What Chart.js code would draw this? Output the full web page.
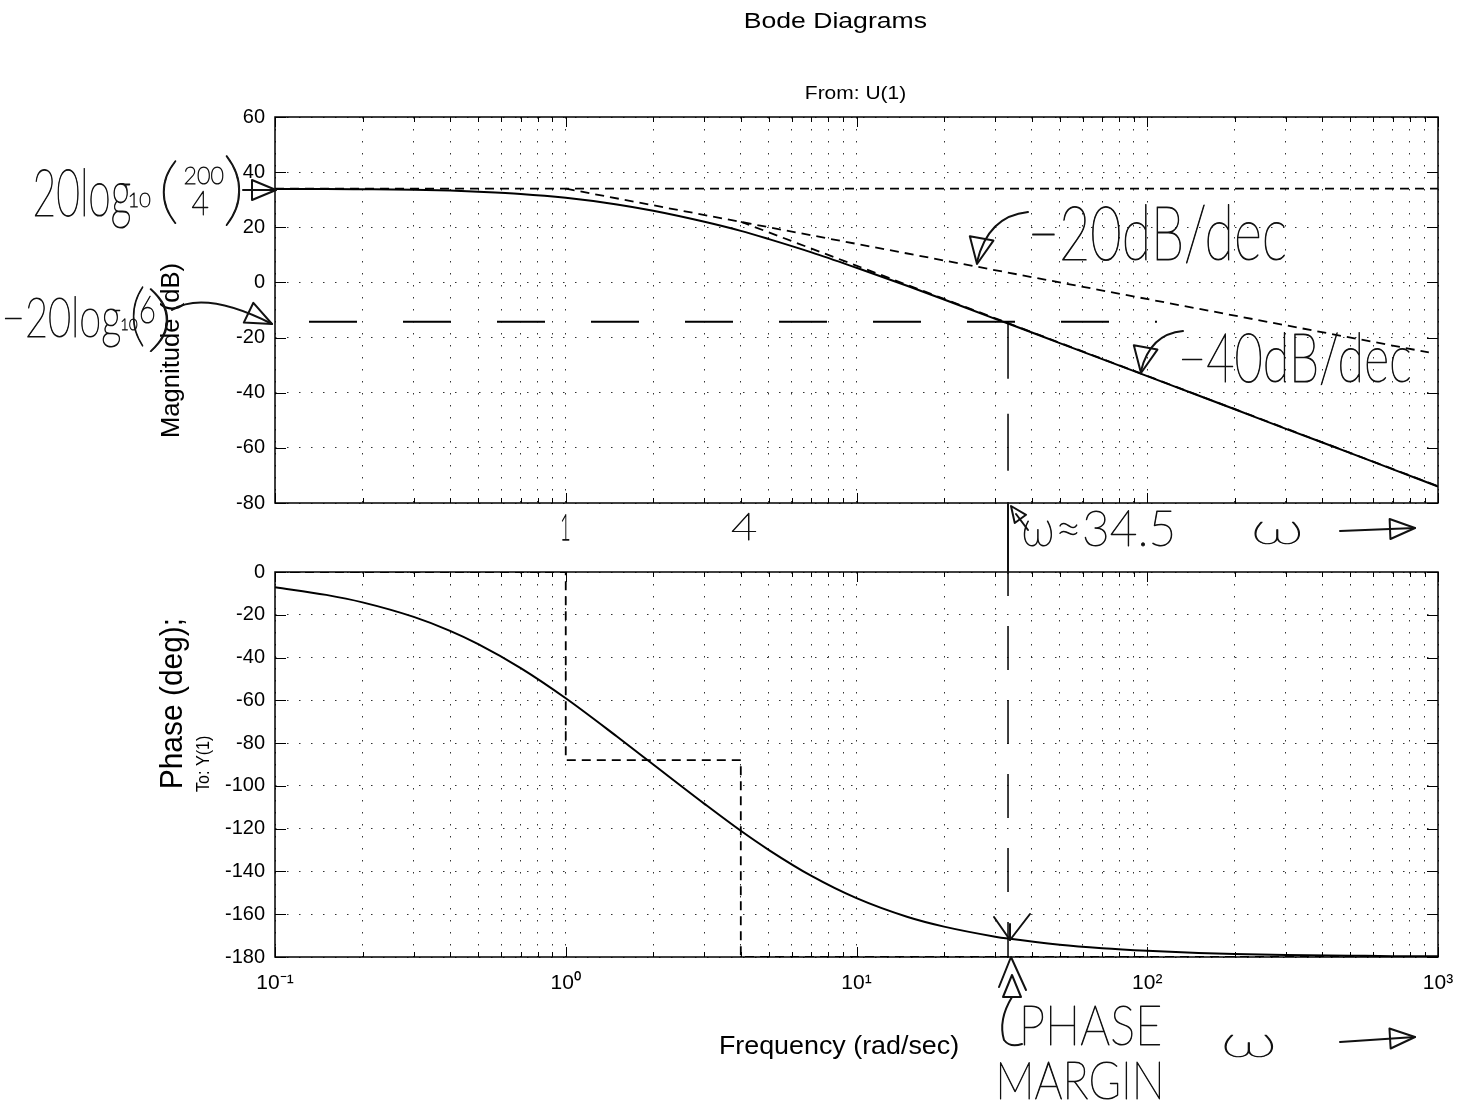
<!DOCTYPE html>
<html>
<head>
<meta charset="utf-8">
<title>Bode Diagrams</title>
<script src="https://cdn.jsdelivr.net/npm/chart.js@4.4.1/dist/chart.umd.min.js"></script>
<style>
  html, body { margin: 0; padding: 0; background: #fff; }
  #wrap { position: relative; width: 1472px; height: 1103px; }
  #wrap canvas { position: absolute; left: 0; top: 0; }
</style>
</head>
<body>
<div id="wrap">
  <canvas id="mag" width="1472" height="1103"></canvas>
  <canvas id="phase" width="1472" height="1103"></canvas>
</div>
<script>
// values (rad/sec, dB, deg)
const FREQ = [0.1, 0.15, 0.2, 0.3, 0.4, 0.5, 0.7, 1, 1.5, 2, 3, 4, 5, 7, 10, 15, 20, 30, 33.2, 50, 70, 100, 150, 200, 300, 500, 700, 1000];
const MAG_DB = [33.9, 33.9, 33.8, 33.6, 33.3, 32.9, 32.1, 30.7, 28.3, 26.0, 22.0, 18.7, 15.7, 10.9, 5.3, -1.3, -6.2, -13.2, -14.9, -22.0, -27.8, -34.0, -41.0, -46.0, -53.1, -61.9, -67.8, -74.0];
const PHASE_DEG = [-7.1, -10.7, -14.2, -21.0, -27.5, -33.7, -44.9, -59.0, -76.9, -90.0, -108.4, -121.0, -130.0, -142.1, -152.5, -161.3, -165.8, -170.5, -171.4, -174.3, -175.9, -177.1, -178.1, -178.6, -179.1, -179.4, -179.6, -179.7];

// straight-line approximations drawn on the plot
const ASYM_FLAT = [[0.1, 34], [1000, 34]];
const ASYM_20 = [[1, 34], [930, -25.4]];
const ASYM_40 = [[4, 22], [1000, -73.9]];
const PHASE_ASYM = [[0.1, 0], [1, 0], [1, -88], [4, -88], [4, -180], [1000, -180]];

// gain crossover construction lines
const CROSS_H = [[0.1, -14.3], [108, -14.3]];
const CROSS_V_MAG = [[33.2, -14.3], [33.2, -80]];
const CROSS_V_PHASE = [[33.2, 0], [33.2, -180]];

const X_GRID = [0.1, 0.2, 0.3, 0.4, 0.5, 0.6, 0.7, 0.8, 0.9,
  1, 2, 3, 4, 5, 6, 7, 8, 9,
  10, 20, 30, 40, 50, 60, 70, 80, 90,
  100, 200, 300, 400, 500, 600, 700, 800, 900, 1000];
const DECADES = [0.1, 1, 10, 100, 1000];
const DECADE_LABELS = ['10⁻¹', '10⁰', '10¹', '10²', '10³'];

const SANS = '"Liberation Sans", Arial, Helvetica, sans-serif';
const HAND = '200 100px Lato, "Open Sans", sans-serif';

Chart.defaults.font.family = SANS;
Chart.defaults.font.size = 20;
Chart.defaults.color = '#000';

const pts = (arr) => arr.map(([x, y]) => ({ x, y }));
const series = (xs, ys) => xs.map((x, i) => ({ x, y: ys[i] }));

// text squeezed into an ink box, optionally running bottom-to-top;
// pen > 0 adds an outline so thin faces read like pen strokes
function fitText(ctx, text, font, x, y, w, h, rot, pen) {
  ctx.save();
  ctx.font = font;
  const m = ctx.measureText(text);
  const tw = m.actualBoundingBoxLeft + m.actualBoundingBoxRight;
  const th = m.actualBoundingBoxAscent + m.actualBoundingBoxDescent;
  let sx, sy;
  if (rot) {
    ctx.translate(x, y + h);
    ctx.rotate(-Math.PI / 2);
    sx = h / tw; sy = w / th;
  } else {
    ctx.translate(x, y);
    sx = w / tw; sy = h / th;
  }
  ctx.scale(sx, sy);
  ctx.fillText(text, m.actualBoundingBoxLeft, m.actualBoundingBoxAscent);
  if (pen) {
    ctx.lineWidth = pen / Math.sqrt(sx * sy);
    ctx.strokeText(text, m.actualBoundingBoxLeft, m.actualBoundingBoxAscent);
  }
  ctx.restore();
}

const hand = (ctx, text, x, y, w, h) => fitText(ctx, text, HAND, x, y, w, h, false, 0.9);

function arrowHead(ctx, tx, ty, ang, len, half) {
  const bx = tx - len * Math.cos(ang);
  const by = ty - len * Math.sin(ang);
  ctx.beginPath();
  ctx.moveTo(tx, ty);
  ctx.lineTo(bx + half * Math.sin(ang), by - half * Math.cos(ang));
  ctx.lineTo(bx - half * Math.sin(ang), by + half * Math.cos(ang));
  ctx.closePath();
  ctx.stroke();
}

function line(ctx, coords) {
  ctx.beginPath();
  ctx.moveTo(coords[0], coords[1]);
  for (let i = 2; i < coords.length; i += 2) ctx.lineTo(coords[i], coords[i + 1]);
  ctx.stroke();
}

// box plus inward tick marks, matlab style
const frame = {
  id: 'frame',
  afterDraw(chart) {
    const { ctx, chartArea: a, scales: { x, y } } = chart;
    ctx.save();
    ctx.strokeStyle = '#000';
    ctx.lineWidth = 1.5;
    ctx.strokeRect(a.left, a.top, a.right - a.left, a.bottom - a.top);
    ctx.lineWidth = 1;
    ctx.beginPath();
    X_GRID.forEach((v) => {
      const px = Math.round(x.getPixelForValue(v)) + 0.5;
      const len = DECADES.includes(v) ? 10 : 5;
      ctx.moveTo(px, a.bottom); ctx.lineTo(px, a.bottom - len);
      ctx.moveTo(px, a.top); ctx.lineTo(px, a.top + len);
    });
    y.ticks.forEach((t) => {
      const py = Math.round(y.getPixelForValue(t.value)) + 0.5;
      ctx.moveTo(a.left, py); ctx.lineTo(a.left + 11, py);
      ctx.moveTo(a.right, py); ctx.lineTo(a.right - 11, py);
    });
    ctx.stroke();
    ctx.restore();
  },
};

// titles, axis labels and the handwritten notes
const notes = {
  id: 'notes',
  afterDraw(chart) {
    const ctx = chart.ctx;
    ctx.save();
    ctx.fillStyle = '#000';
    fitText(ctx, 'Bode Diagrams', '20px ' + SANS, 745, 11, 182, 21);
    fitText(ctx, 'From: U(1)', '18px ' + SANS, 806, 85, 99, 18);
    fitText(ctx, 'Magnitude (dB)', '24px ' + SANS, 160, 264, 24, 173, true);
    fitText(ctx, 'Phase (deg);', '24px ' + SANS, 160, 620, 28, 168, true);
    fitText(ctx, 'To: Y(1)', '16px ' + SANS, 195, 736, 17, 56, true);
    fitText(ctx, 'Frequency (rad/sec)', '24px ' + SANS, 720, 1035, 238, 24);

    ctx.fillStyle = '#111';
    ctx.strokeStyle = '#111';
    ctx.lineWidth = 2;
    ctx.lineCap = 'round';
    ctx.lineJoin = 'round';

    // DC gain
    hand(ctx, '20log', 35, 168, 95, 60);
    hand(ctx, '10', 130, 193, 20, 14);
    hand(ctx, '(', 163, 160, 13, 64);
    hand(ctx, '200', 185, 167, 38, 17);
    hand(ctx, '4', 192, 191, 16, 24);
    hand(ctx, ')', 226, 155, 14, 72);
    line(ctx, [243, 190, 276, 190]);
    arrowHead(ctx, 276, 190, 0, 24, 10);

    // 1/6 level
    hand(ctx, '−20log', 5, 296, 115, 52);
    hand(ctx, '10', 122, 318, 15, 12);
    hand(ctx, '(', 133, 287, 10, 60);
    hand(ctx, '6', 141, 296, 13, 27);
    hand(ctx, ')', 150, 288, 18, 64);
    ctx.beginPath();
    ctx.moveTo(172, 310);
    ctx.quadraticCurveTo(205, 290, 272, 324);
    ctx.stroke();
    arrowHead(ctx, 272, 324, 0.45, 26, 11);

    // slopes
    hand(ctx, '−20dB/dec', 1032, 205, 253, 58);
    ctx.beginPath();
    ctx.moveTo(1028, 212);
    ctx.quadraticCurveTo(988, 216, 977, 262);
    ctx.stroke();
    arrowHead(ctx, 977, 264, 1.75, 26, 12);

    hand(ctx, '−40dB/dec', 1182, 333, 228, 52);
    ctx.beginPath();
    ctx.moveTo(1183, 331);
    ctx.quadraticCurveTo(1150, 334, 1141, 371);
    ctx.stroke();
    arrowHead(ctx, 1141, 373, 1.75, 26, 12);

    // break frequencies and crossover
    hand(ctx, '1', 562, 514, 7, 26);
    hand(ctx, '4', 732, 513, 24, 27);
    hand(ctx, 'ω≈34.5', 1024, 510, 148, 36);
    arrowHead(ctx, 1011, 506, -2.2, 16, 7);
    line(ctx, [1016, 514, 1028, 530]);
    hand(ctx, 'ω', 1255, 522, 45, 22);
    line(ctx, [1340, 531, 1415, 528]);
    arrowHead(ctx, 1415, 528, -0.04, 25, 10);
    line(ctx, [1008, 503, 1008, 573]);

    // phase margin marks
    line(ctx, [994, 917, 1010, 940, 1030, 914]);
    line(ctx, [1010, 924, 1010, 940]);
    line(ctx, [999, 987, 1011, 957, 1026, 990]);
    arrowHead(ctx, 1012, 975, -Math.PI / 2, 22, 9);
    ctx.beginPath();
    ctx.moveTo(1012, 997);
    ctx.quadraticCurveTo(998, 1020, 1004, 1040);
    ctx.quadraticCurveTo(1010, 1048, 1022, 1044);
    ctx.stroke();
    hand(ctx, 'PHASE', 1024, 1006, 136, 40);
    hand(ctx, 'MARGIN', 1000, 1062, 160, 38);
    hand(ctx, 'ω', 1225, 1035, 48, 22);
    line(ctx, [1340, 1042, 1415, 1037]);
    arrowHead(ctx, 1415, 1037, -0.06, 25, 10);
    ctx.restore();
  },
};

function xScale(showLabels, height) {
  return {
    type: 'logarithmic',
    min: 0.1,
    max: 1000,
    afterBuildTicks: (s) => { s.ticks = X_GRID.map((v) => ({ value: v })); },
    afterFit: (s) => { s.height = height; },
    ticks: {
      display: showLabels,
      autoSkip: false,
      maxRotation: 0,
      padding: 14,
      font: { size: 21 },
      callback: (v) => {
        const i = DECADES.indexOf(v);
        return i >= 0 ? DECADE_LABELS[i] : '';
      },
    },
    grid: { color: '#333', lineWidth: 1, drawTicks: false },
    border: { display: false, dash: [1.5, 10.5] },
  };
}

function yScale(min, max) {
  return {
    min,
    max,
    afterFit: (s) => { s.width = 60; },
    ticks: { stepSize: 20, padding: 10 },
    grid: { color: '#333', lineWidth: 1, drawTicks: false },
    border: { display: false, dash: [1.5, 10.5] },
  };
}

const baseOptions = (padding, xs, ys) => ({
  responsive: false,
  animation: false,
  events: [],
  layout: { padding },
  elements: { point: { radius: 0 }, line: { borderColor: '#000', fill: false } },
  plugins: { legend: { display: false }, tooltip: { enabled: false } },
  scales: { x: xs, y: ys },
});

new Chart(document.getElementById('mag'), {
  type: 'line',
  data: {
    datasets: [
      { data: series(FREQ, MAG_DB), borderWidth: 2, cubicInterpolationMode: 'monotone' },
      { data: pts(ASYM_FLAT), borderWidth: 1.8, borderDash: [9, 6] },
      { data: pts(ASYM_20), borderWidth: 1.8, borderDash: [9, 6] },
      { data: pts(ASYM_40), borderWidth: 1.8, borderDash: [9, 6] },
      { data: pts(CROSS_H), borderWidth: 2, borderDash: [48, 46], borderDashOffset: 60 },
      { data: pts(CROSS_V_MAG), borderWidth: 1.5, borderDash: [57, 35] },
    ],
  },
  options: baseOptions({ left: 215, right: 34, top: 117, bottom: 600 }, xScale(false, 0), yScale(-80, 60)),
  plugins: [frame],
});

new Chart(document.getElementById('phase'), {
  type: 'line',
  data: {
    datasets: [
      { data: series(FREQ, PHASE_DEG), borderWidth: 2, cubicInterpolationMode: 'monotone' },
      { data: pts(PHASE_ASYM), borderWidth: 1.8, borderDash: [9, 6] },
      { data: pts(CROSS_V_PHASE), borderWidth: 1.5, borderDash: [44, 30], borderDashOffset: 20 },
    ],
  },
  options: baseOptions({ left: 215, right: 34, top: 572, bottom: 106 }, xScale(true, 40), yScale(-180, 0)),
  plugins: [frame, notes],
});
</script>
</body>
</html>
